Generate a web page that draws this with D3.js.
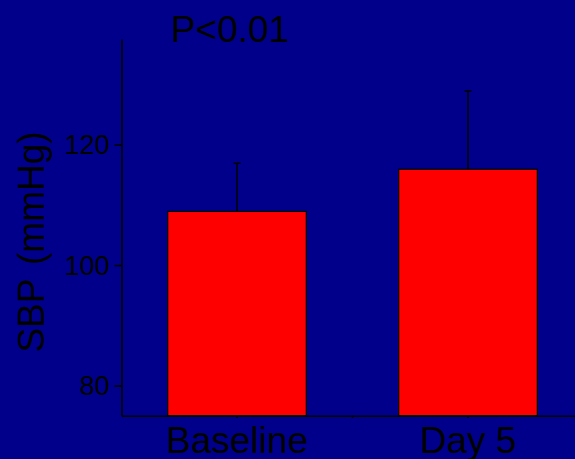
<!DOCTYPE html>
<html>
<head>
<meta charset="utf-8">
<script src="https://cdn.jsdelivr.net/npm/d3@7"></script>
<style>
  html, body { margin: 0; padding: 0; background: #00008b; }
  svg { display: block; font-family: "Liberation Sans", Arial, sans-serif; }
  .axis path, .axis line { stroke: #000; stroke-width: 1.6; }
  .axis text { fill: #000; }
</style>
</head>
<body>
<div id="chart"></div>
<script>
// data
const categories = ["Baseline", "Day 5"]
const means = [108.9, 115.9]
const sds = [8.0, 13.0]
const yTicks = [80, 100, 120]
const title = "P<0.01"
const yLabel = "SBP (mmHg)"

const width = 575, height = 459

const svg = d3.select("#chart")
    .append("svg")
    .attr("width", width)
    .attr("height", height)

svg.append("rect")
    .attr("width", width)
    .attr("height", height)
    .attr("fill", "#00008b")

const x = d3.scaleBand()
    .domain(categories)
    .range([121.5, 583.5])
    .paddingInner(0.4)
    .paddingOuter(0.2)

const y = d3.scaleLinear()
    .domain([75, 137.5])
    .range([415.7, 39.1])

// bars
svg.selectAll("rect.bar")
    .data(categories)
    .enter()
    .append("rect")
    .attr("class", "bar")
    .attr("x", d => x(d))
    .attr("width", x.bandwidth())
    .attr("y", (d, i) => y(means[i]))
    .attr("height", (d, i) => y(75) - y(means[i]))
    .attr("fill", "#ff0000")
    .attr("stroke", "#000")
    .attr("stroke-width", 1.2)

// error bars (upper only)
const err = svg.selectAll("g.err")
    .data(categories)
    .enter()
    .append("g")
    .attr("class", "err")
    .attr("stroke", "#000")
    .attr("stroke-width", 1.5)

err.append("line")
    .attr("x1", d => x(d) + x.bandwidth() / 2)
    .attr("x2", d => x(d) + x.bandwidth() / 2)
    .attr("y1", (d, i) => y(means[i]))
    .attr("y2", (d, i) => y(means[i] + sds[i]))

err.append("line")
    .attr("x1", d => x(d) + x.bandwidth() / 2 - 3.5)
    .attr("x2", d => x(d) + x.bandwidth() / 2 + 3.5)
    .attr("y1", (d, i) => y(means[i] + sds[i]))
    .attr("y2", (d, i) => y(means[i] + sds[i]))

// axes
const yAxis = svg.append("g")
    .attr("class", "axis")
    .attr("transform", `translate(${x.range()[0]},0)`)
    .call(d3.axisLeft(y).tickValues(yTicks).tickSize(7).tickSizeOuter(0).tickPadding(5))
yAxis.selectAll("text")
    .style("font-size", "27px")
    .attr("dy", "0.34em")

const xAxis = svg.append("g")
    .attr("class", "axis")
    .attr("transform", `translate(0,${y.range()[0]})`)
    .call(d3.axisBottom(x).tickSize(2).tickSizeOuter(0).tickPadding(9))
xAxis.selectAll("text")
    .style("font-size", "37px")
    .attr("dy", "0.71em")

// small ticks between groups
xAxis.append("line")
    .attr("x1", x("Day 5") - x.step() * x.paddingInner() / 2)
    .attr("x2", x("Day 5") - x.step() * x.paddingInner() / 2)
    .attr("y1", 0)
    .attr("y2", 2)

// title
svg.append("text")
    .attr("x", 230)
    .attr("y", 41.5)
    .attr("text-anchor", "middle")
    .style("font-size", "37px")
    .attr("fill", "#000")
    .text(title)

// y label
svg.append("text")
    .attr("transform", "translate(44,242) rotate(-90)")
    .attr("text-anchor", "middle")
    .style("font-size", "37px")
    .style("word-spacing", "4px")
    .attr("fill", "#000")
    .text(yLabel)
</script>
</body>
</html>
